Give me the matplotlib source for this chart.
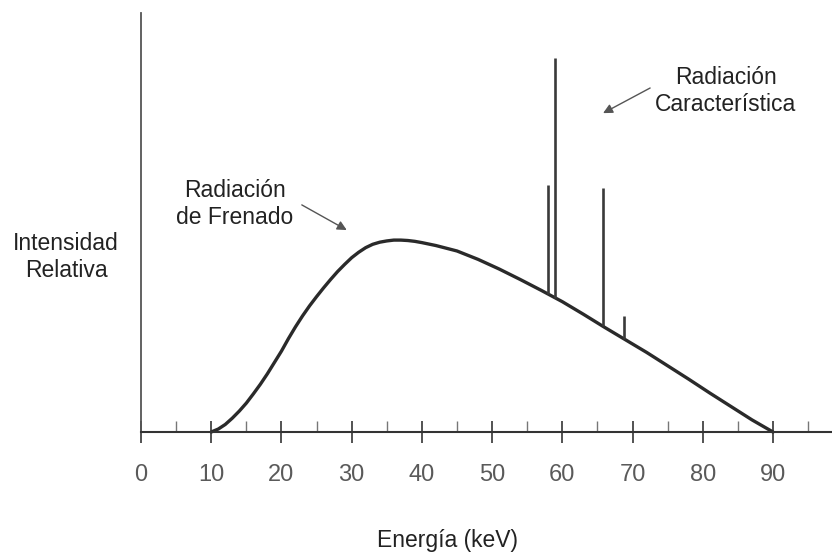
#!/usr/bin/env python3
"""Espectro de rayos X: radiación de frenado y líneas características."""

import numpy as np
import matplotlib
matplotlib.use("Agg")
import matplotlib.pyplot as plt

plt.rcParams["font.family"] = ["Liberation Sans", "DejaVu Sans"]

# Espectro continuo (bremsstrahlung), intensidad relativa
energy_kev = [10, 11, 12, 13, 14, 15, 16, 17, 18, 19, 20, 21, 22, 23, 24,
              25, 26, 27, 28, 29, 30, 31, 32, 33, 34, 35, 36, 37, 38, 39,
              40, 42, 45, 48, 51, 54, 57, 60, 63, 66, 69, 72, 75, 78, 81,
              84, 87, 90]
intensity = [0, 0.7, 1.8, 3.3, 5.0, 6.9, 9.1, 11.4, 13.9, 16.6, 19.3, 22.3,
             25.1, 27.7, 30.1, 32.3, 34.4, 36.4, 38.3, 40.0, 41.6, 42.9,
             44.0, 44.8, 45.3, 45.6, 45.8, 45.8, 45.7, 45.5, 45.2, 44.5,
             43.2, 41.2, 38.9, 36.4, 33.8, 31.1, 28.1, 25.0, 22.0, 19.0,
             15.8, 12.6, 9.3, 6.1, 2.9, 0]

# Líneas características
peak_kev = [57.9, 58.9, 65.8, 68.8]
peak_top = [58.9, 89.3, 58.2, 27.7]

major_ticks = list(range(0, 100, 10))
minor_ticks = list(range(5, 100, 10))

FS = 16.5
DARK = "#2a2a2a"

fig = plt.figure(figsize=(8.32, 5.52), dpi=100)
ax = fig.add_axes([141 / 832, 120 / 552, 691 / 832, 419 / 552])
ax.set_xlim(0, 98.4)
ax.set_ylim(0, 100)

ax.plot(energy_kev, intensity, color=DARK, lw=2.4, solid_capstyle="round",
        solid_joinstyle="round", clip_on=False)

base = np.interp(peak_kev, energy_kev, intensity)
ax.vlines(peak_kev, base, peak_top, color="#3a3a3a", lw=1.9)

for side in ["top", "right"]:
    ax.spines[side].set_visible(False)
ax.spines["bottom"].set_color("#333333")
ax.spines["bottom"].set_linewidth(1.5)
ax.spines["left"].set_color("#555555")
ax.spines["left"].set_linewidth(1.3)

ax.set_yticks([])
ax.set_xticks(major_ticks)
ax.set_xticks(minor_ticks, minor=True)
ax.tick_params(axis="x", which="major", direction="inout", length=15.8,
               width=1.3, color="#444444", labelsize=FS + 0.5,
               labelcolor="#5a5a5a", pad=15)
ax.tick_params(axis="x", which="minor", direction="in", length=7.9,
               width=1.0, color="#777777")

fig.text(66 / 832, 1 - 257 / 552, "Intensidad\nRelativa", ha="center",
         va="center", fontsize=FS, color="#222222", linespacing=1.2)
fig.text(447.5 / 832, 1 - 540 / 552, "Energía (keV)", ha="center",
         va="center", fontsize=FS, color="#222222")

arrow = dict(arrowstyle="-|>", color="#555555", lw=1.0, mutation_scale=14,
             shrinkA=0, shrinkB=0)
ax.text(13.4, 54.4, "Radiación\nde Frenado", ha="center", va="center",
        fontsize=FS, color="#222222", linespacing=1.2)
ax.annotate("", xy=(29.3, 48.2), xytext=(22.9, 54.2), arrowprops=arrow)

ax.text(83.3, 81.4, "Radiación\nCaracterística", ha="center", va="center",
        fontsize=FS, color="#222222", linespacing=1.2)
ax.annotate("", xy=(65.8, 76.1), xytext=(72.5, 82.1), arrowprops=arrow)

fig.savefig("out.png", dpi=100)
